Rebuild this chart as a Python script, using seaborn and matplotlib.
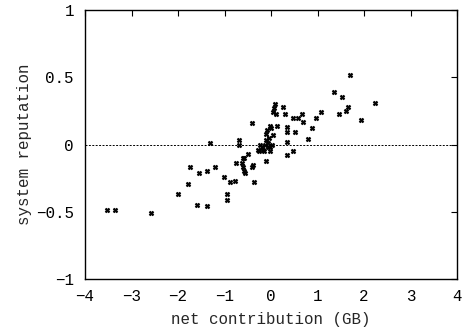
import matplotlib
matplotlib.use("Agg")
import matplotlib.pyplot as plt
import seaborn as sns
import pandas as pd

net_contribution = [
    -3.53, -3.35, -2.58, -2.00, -1.78, -1.74, -1.55, -1.38, -1.20, -1.59,
    -1.38, -1.31, -1.01, -0.95, -0.95, -0.88, -0.77, -0.75, -0.62, -0.60,
    -0.49, -0.60, -0.56, -0.41, -0.39, -0.37, -0.69, -0.69, -0.41, -0.11,
    -0.26, -0.15, -0.02, 0.34, 0.47, 0.09, 0.06, 0.04, 0.11, 0.26,
    0.30, 0.13, -0.09, 0.00, 0.34, 0.34, 0.34, 0.47, 0.58, 0.67,
    0.69, 0.52, 0.80, 0.88, 0.97, 1.08, 1.35, 1.53, 1.66, 1.61,
    1.46, 1.70, 1.94, 2.24, -0.58, -0.19, -0.28, -0.24, -0.11, 0.04,
    -0.04, -0.11, -0.06, 0.02, -0.02, -0.13, -0.06, -0.58, -0.02, -0.17,
]
system_reputation = [
    -0.49, -0.49, -0.51, -0.37, -0.29, -0.17, -0.21, -0.20, -0.17, -0.45,
    -0.46, 0.01, -0.24, -0.37, -0.41, -0.28, -0.27, -0.14, -0.14, -0.10,
    -0.07, -0.17, -0.21, -0.17, -0.15, -0.28, 0.03, 0.00, 0.16, -0.12,
    -0.05, -0.05, -0.05, -0.08, -0.05, 0.30, 0.27, 0.24, 0.23, 0.28,
    0.23, 0.14, 0.11, 0.12, 0.13, 0.09, 0.02, 0.20, 0.20, 0.23,
    0.17, 0.09, 0.04, 0.12, 0.20, 0.24, 0.39, 0.35, 0.28, 0.25,
    0.23, 0.52, 0.18, 0.31, -0.10, -0.02, -0.04, 0.00, 0.08, 0.07,
    0.05, 0.03, 0.01, 0.00, -0.02, 0.00, -0.02, -0.20, 0.14, -0.04,
]

x_ticks = [-4, -3, -2, -1, 0, 1, 2, 3, 4]
y_ticks = [-1, -0.5, 0, 0.5, 1]
y_tick_labels = ["\u22121", "\u22120.5", "0", "0.5", "1"]
x_tick_labels = ["\u22124", "\u22123", "\u22122", "\u22121", "0", "1", "2", "3", "4"]

df = pd.DataFrame({"net": net_contribution, "rep": system_reputation})

sns.set_style("white")
plt.rcParams["font.family"] = ["Liberation Mono", "DejaVu Sans Mono"]

fig = plt.figure(figsize=(4.62, 3.35), dpi=100)
ax = fig.add_axes([85 / 462, 56 / 335, 372 / 462, 269 / 335])

ax.axhline(0, color="black", lw=0.7, ls=(0, (2, 1.5)), zorder=1)
sns.scatterplot(data=df, x="net", y="rep", ax=ax, marker="X", s=11,
                color="black", edgecolor="black", linewidth=0.5, zorder=3)

ax.set_xlim(-4, 4)
ax.set_ylim(-1, 1)
ax.set_xticks(x_ticks)
ax.set_xticklabels(x_tick_labels)
ax.set_yticks(y_ticks)
ax.set_yticklabels(y_tick_labels)
ax.tick_params(direction="in", length=4, width=0.8, top=True, right=True,
               labelsize=11.4, colors="black")
ax.tick_params(axis="x", pad=7)
ax.tick_params(axis="y", pad=8)
for s in ax.spines.values():
    s.set_visible(True)
    s.set_color("black")
    s.set_linewidth(1.0)

ax.set_xlabel("net contribution (GB)", fontsize=11.4, labelpad=6)
ax.set_ylabel("system reputation", fontsize=11.4, labelpad=3)

fig.savefig("out.png", dpi=100, facecolor="white")
